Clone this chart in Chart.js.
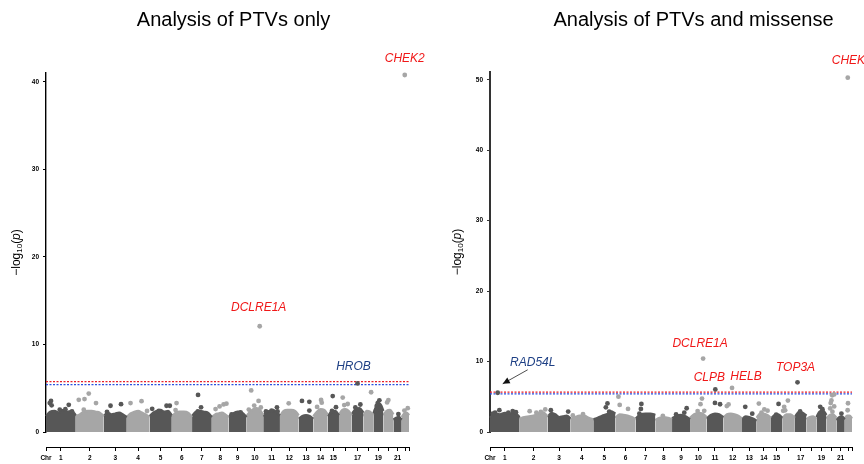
<!DOCTYPE html>
<html><head><meta charset="utf-8">
<script src="https://cdn.jsdelivr.net/npm/chart.js@4.4.0/dist/chart.umd.min.js"></script>
<style>
html,body{margin:0;padding:0;background:#fff;}
#wrap{position:relative;width:864px;height:464px;overflow:hidden;background:#fff;}
.c{position:absolute;top:0;width:432px;height:464px;}
</style></head><body>
<div id="wrap">
<div class="c" style="left:0"><canvas id="c1" width="432" height="464"></canvas></div>
<div class="c" style="left:432px"><canvas id="c2" width="432" height="464"></canvas></div>
</div>
<script>
// ---------------- DATA ----------------
const chromosomes = ['1','2','3','4','5','6','7','8','9','10','11','12','13','14','15','16','17','18','19','20','21','22'];
const chrLength = [238,224,184,182,178,162,158,134,144,133,134,150,117,115,90,102,93,80,80,80,67,58];
const xTickLabels = ['Chr','1','2','3','4','5','6','7','8','9','10','11','12','13','14','15','','17','','19','','21','',''];

const titles = ['Analysis of PTVs only', 'Analysis of PTVs and missense'];
const yTicksPTV = [0,10,20,30,40];
const yTicksMis = [0,10,20,30,40,50];
const thresholdsPTV = [5.75, 5.40];
const thresholdsMis = [5.66, 5.40];

// dense bulk of genes: upper envelope of -log10(p) along each chromosome
const cloudPTV = [
  [1.8,2.3,2.4,2.2,2.5,2.3,2.4,1.9],
  [1.8,2.0,2.3,2.4,2.4,2.3,2.2,1.8],
  [1.8,2.2,2.0,2.1,2.2,2.0,1.7],
  [1.7,2.1,2.3,2.4,2.2,2.0,1.7],
  [1.8,2.2,2.4,2.5,2.3,2.4,1.9],
  [1.7,2.2,2.3,2.3,2.2,1.7],
  [1.8,2.3,2.4,2.3,2.2,1.7],
  [1.7,2.0,2.1,2.2,2.0,1.7],
  [1.7,2.1,2.3,2.2,1.7],
  [1.8,2.3,2.6,2.7,2.5,1.9],
  [1.8,2.3,2.4,2.5,2.2,1.9],
  [1.8,2.4,2.5,2.5,2.4,1.9],
  [1.5,1.8,1.9,1.8,1.5],
  [1.8,2.3,2.6,2.5,2.0],
  [1.8,2.3,2.4,1.9],
  [1.9,2.5,2.6,2.4,1.9],
  [2.0,2.6,2.7,2.2],
  [1.8,2.4,2.3,1.9],
  [2.1,3.0,3.2,2.4],
  [1.9,2.4,2.5,2.0],
  [1.4,1.6,1.7,1.4],
  [1.7,2.1,2.2,1.9]
];
const cloudMis = [
  [2.0,2.6,2.5,2.7,2.6,2.7,2.1],
  [1.9,2.1,2.2,2.3,2.6,2.8,2.2],
  [2.1,2.7,2.5,2.1,2.2,2.3,1.9],
  [1.8,2.1,2.3,2.3,2.0,1.8],
  [1.8,2.0,2.3,2.5,2.9,2.6],
  [2.0,2.5,2.4,2.3,2.1,1.8],
  [1.9,2.5,2.6,2.6,2.4],
  [1.7,2.0,2.1,2.0,1.8],
  [1.9,2.3,2.4,2.2,1.8],
  [2.0,2.5,2.7,2.6,2.1],
  [1.9,2.4,2.6,2.5,2.1],
  [2.0,2.5,2.6,2.5,2.3,1.9],
  [1.8,2.2,2.1,1.9,1.6],
  [2.0,2.6,2.6,2.4,2.0],
  [1.9,2.4,2.5,2.0],
  [1.9,2.5,2.5,2.0],
  [2.1,2.8,2.7,2.3],
  [1.8,2.1,2.2,1.8],
  [2.1,2.9,3.0,2.4],
  [1.9,2.4,2.5,2.0],
  [1.7,2.1,2.2,1.8],
  [1.9,2.3,2.3,1.9]
];

// individual genes above the bulk: [chromosome, position (Mb), -log10(p)]
const hitsPTV = [
  [1,40,3.55],[1,30,3.3],[1,45,3.05],[1,110,2.55],[1,155,2.6],[1,182,3.1],[1,208,2.35],
  [2,24,3.68],[2,70,3.76],[2,104,4.39],[2,162,3.3],[2,64,2.55],
  [3,54,3.0],[3,26,2.3],[3,138,3.18],
  [4,30,3.3],[4,118,3.52],[4,162,2.4],
  [5,21,2.65],[5,74,2.4],[5,136,3.0],[5,162,3.0],
  [6,38,3.3],[6,30,2.5],
  [7,48,4.23],[7,72,2.82],[7,46,2.35],
  [8,30,2.62],[8,62,2.92],[8,94,3.15],[8,117,3.24],
  [9,24,2.0],[9,96,2.25],
  [10,37,4.75],[10,96,3.55],[10,61,3.02],[10,114,2.8],[10,18,2.56],
  [11,22,2.35],[11,67,2.45],[11,110,2.82],[11,115,2.35],
  [12,70,3.28],
  [13,26,3.55],[13,85,3.45],[13,85,2.45],
  [14,30,2.86],[14,62,3.66],[14,67,3.35],
  [15,40,4.1],[15,66,2.84],[15,34,2.4],
  [16,30,3.93],[16,42,3.08],[16,70,3.2],
  [17,69,3.14],[17,29,2.8],
  [18,62,4.54],
  [19,48,3.62],[19,35,3.3],[19,27,2.97],[19,22,2.5],
  [20,40,3.65],[20,30,3.38],
  [21,40,2.05],
  [22,21,2.45],[22,48,2.72]
];
const hitsMis = [
  [1,75,3.1],[1,40,2.75],[1,147,2.75],[1,182,2.97],[1,208,2.8],[1,22,2.6],
  [2,80,2.95],[2,134,2.75],[2,170,2.85],[2,205,3.2],
  [3,26,3.1],[3,165,2.9],
  [4,18,2.35],[4,100,2.55],
  [5,114,4.06],[5,101,3.5],[5,128,2.9],
  [6,24,5.02],[6,34,3.85],[6,101,3.28],
  [7,46,3.98],[7,42,3.28],[7,30,2.6],
  [8,60,2.3],
  [9,32,2.5],[9,98,2.75],[9,117,3.37],
  [10,96,4.75],[10,84,3.95],[10,61,2.97],[10,114,3.0],
  [11,67,4.13],[11,108,3.94],
  [12,28,3.68],[12,42,3.92],
  [13,26,3.57],[13,82,2.6],
  [14,18,4.04],[14,39,2.74],[14,62,3.21],[14,88,3.02],
  [15,61,3.98],[15,42,2.48],
  [16,46,4.46],[16,16,3.57],[16,8,3.0],[16,24,3.07],
  [17,42,2.92],
  [19,30,3.57],[19,48,3.23],
  [20,46,5.22],[20,62,5.33],[20,40,4.48],[20,34,4.1],[20,62,3.63],[20,30,3.35],[20,48,2.88],
  [21,40,2.62],
  [22,26,4.08],[22,23,3.09]
];

// labelled genes
const genesPTV    = ['CHEK2','DCLRE1A','HROB'];
const genesPTVChr = [22,10,17];
const genesPTVPos = [24,105,46];
const genesPTVVal = [40.77,12.08,5.55];

const genesMis    = ['CHEK2','DCLRE1A','CLPB','HELB','TOP3A','RAD54L'];
const genesMisChr = [22,10,11,12,17,1];
const genesMisPos = [24,105,70,70,21,62];
const genesMisVal = [50.3,10.42,6.04,6.25,7.05,5.57];

// ---------------- STYLE ----------------
const FONT = "'Liberation Sans', Arial, Helvetica, sans-serif";
const DARK = '#575757', LIGHT = '#a6a6a6';
const RED = '#f01818', BLUE = '#1d3f84';
const THR_COLORS = ['#e8202a', '#2a4fe0'];

const styPTV = {
  yMax: 41, axisLeft: 46, padRight: 23, padTop: 73, titleX: 233.5, yTitleX: 17,
  axisColor: '#000', axisWidth: 1.4,
  labels: [ {dx:0,dy:-16,color:RED}, {dx:-1,dy:-19,color:RED}, {dx:-4,dy:-17,color:BLUE} ]
};
const styMis = {
  yMax: 51.1, axisLeft: 58, padRight: 12, padTop: 72, titleX: 261.5, yTitleX: 26,
  axisColor: '#333', axisWidth: 2,
  labels: [ {dx:4,dy:-17,color:RED}, {dx:-3,dy:-15,color:RED}, {dx:-6,dy:-12,color:RED},
            {dx:14,dy:-11.5,color:RED}, {dx:-2,dy:-15,color:RED}, {dx:35,dy:-30,color:BLUE} ],
  arrow: { gene: 5, from: [30,-23], to: [5,-9] }
};

// ---------------- BUILD ----------------
const chrStart = [0];
chrLength.forEach((l,i) => chrStart.push(chrStart[i] + l));
const genomeEnd = chrStart[chrLength.length];
const xTickValues = [0].concat(chrLength.map((l,i) => chrStart[i] + l/2), [genomeEnd]);
const chrColor = c => (c % 2 === 1 ? DARK : LIGHT);

const decorPlugin = {
  id: 'decor',
  afterDraw(chart, args, o) {
    const ctx = chart.ctx, xs = chart.scales.x, ys = chart.scales.y, ca = chart.chartArea;
    ctx.save();
    ctx.fillStyle = '#000';
    ctx.font = `20px ${FONT}`;
    ctx.textAlign = 'center';
    ctx.textBaseline = 'alphabetic';
    ctx.fillText(o.title, o.sty.titleX, 26);
    ctx.save();
    ctx.translate(o.sty.yTitleX, (ca.top + ca.bottom) / 2);
    ctx.rotate(-Math.PI / 2);
    const parts = [['\u2212log', `12px ${FONT}`, 0], ['10', `8px ${FONT}`, 3],
                   ['(', `12px ${FONT}`, 0], ['p', `italic 12px ${FONT}`, 0], [')', `12px ${FONT}`, 0]];
    let tw = 0;
    parts.forEach(p => { ctx.font = p[1]; tw += ctx.measureText(p[0]).width; });
    let px = -tw / 2;
    ctx.textAlign = 'left'; ctx.textBaseline = 'middle';
    parts.forEach(p => { ctx.font = p[1]; ctx.fillText(p[0], px, p[2]); px += ctx.measureText(p[0]).width; });
    ctx.restore();
    ctx.font = `italic 12px ${FONT}`;
    ctx.textAlign = 'center'; ctx.textBaseline = 'middle';
    o.genes.forEach((g, i) => {
      const gx = xs.getPixelForValue(chrStart[o.chr[i]-1] + o.pos[i]);
      const gy = ys.getPixelForValue(o.val[i]);
      const s = o.sty.labels[i];
      ctx.fillStyle = s.color;
      ctx.fillText(g, gx + s.dx, gy + s.dy);
    });
    if (o.sty.arrow) {
      const a = o.sty.arrow, i = a.gene;
      const gx = xs.getPixelForValue(chrStart[o.chr[i]-1] + o.pos[i]);
      const gy = ys.getPixelForValue(o.val[i]);
      const x1 = gx + a.from[0], y1 = gy + a.from[1], x2 = gx + a.to[0], y2 = gy + a.to[1];
      ctx.strokeStyle = '#222'; ctx.lineWidth = 0.8;
      ctx.beginPath(); ctx.moveTo(x1, y1); ctx.lineTo(x2, y2); ctx.stroke();
      const ang = Math.atan2(y2 - y1, x2 - x1), L = 7, W = 3.2;
      ctx.fillStyle = '#111';
      ctx.beginPath();
      ctx.moveTo(x2, y2);
      ctx.lineTo(x2 - L*Math.cos(ang) + W*Math.sin(ang), y2 - L*Math.sin(ang) - W*Math.cos(ang));
      ctx.lineTo(x2 - L*Math.cos(ang) - W*Math.sin(ang), y2 - L*Math.sin(ang) + W*Math.cos(ang));
      ctx.closePath(); ctx.fill();
    }
    ctx.restore();
  }
};

function zeroPad(s) { s.paddingTop = 0; s.paddingBottom = 0; s.paddingLeft = 0; s.paddingRight = 0; }

function build(canvasId, title, cloud, hits, genes, gChr, gPos, gVal, thr, yTicks, sty) {
  const datasets = [];
  cloud.forEach((prof, ci) => {
    const col = chrColor(ci + 1);
    datasets.push({
      type: 'line',
      data: prof.map((h, j) => ({ x: chrStart[ci] + chrLength[ci] * j / (prof.length - 1), y: h })),
      fill: { value: -0.12 },
      backgroundColor: col, borderColor: col, borderWidth: 2.5,
      pointRadius: 0, tension: 0.35, cubicInterpolationMode: 'monotone',
      order: 3, clip: false
    });
  });
  thr.forEach((t, k) => {
    datasets.push({
      type: 'line',
      data: [{ x: 0, y: t }, { x: genomeEnd, y: t }],
      borderColor: THR_COLORS[k], borderWidth: 1.2, borderDash: [2, 1.5],
      pointRadius: 0, fill: false, order: 2, clip: false
    });
  });
  const pts = hits.map(h => ({ x: chrStart[h[0]-1] + h[1], y: h[2], chr: h[0] }))
    .concat(genes.map((g, i) => ({ x: chrStart[gChr[i]-1] + gPos[i], y: gVal[i], chr: gChr[i] })));
  datasets.push({
    type: 'scatter',
    data: pts,
    backgroundColor: c => (c.raw ? chrColor(c.raw.chr) : DARK),
    borderWidth: 0, pointRadius: 2.4, order: 1, clip: false
  });

  return new Chart(document.getElementById(canvasId), {
    type: 'scatter',
    data: { datasets },
    options: {
      responsive: false, animation: false, events: [],
      layout: { padding: { top: sty.padTop, right: sty.padRight, left: 0, bottom: 0 } },
      plugins: {
        legend: { display: false }, tooltip: { enabled: false },
        decor: { title, sty, genes, chr: gChr, pos: gPos, val: gVal }
      },
      scales: {
        xs: {
          axis: 'x', type: 'linear', position: 'bottom', weight: 0, min: 0, max: genomeEnd,
          grid: { display: false }, border: { display: false }, ticks: { display: false },
          afterFit: s => { s.height = 15; zeroPad(s); }
        },
        x: {
          type: 'linear', position: 'bottom', weight: 1, min: 0, max: genomeEnd,
          border: { display: true, color: '#000', width: 1 },
          grid: { display: true, drawOnChartArea: false, drawTicks: true, tickLength: 4, color: '#000', lineWidth: 1 },
          ticks: { autoSkip: false, maxRotation: 0, minRotation: 0, padding: 3, color: '#000',
                   font: { family: FONT, size: 6.5, weight: 'bold' },
                   callback: (v, i) => xTickLabels[i] },
          afterBuildTicks: s => { s.ticks = xTickValues.map(v => ({ value: v })); },
          afterFit: s => { s.height = 17; zeroPad(s); }
        },
        y: {
          type: 'linear', position: 'left', min: 0, max: sty.yMax,
          border: { display: true, color: sty.axisColor, width: sty.axisWidth },
          grid: { display: true, drawOnChartArea: false, drawTicks: true, tickLength: 3, color: sty.axisColor, lineWidth: 1 },
          ticks: { padding: 4, color: '#000', font: { family: FONT, size: 6.5, weight: 'bold' } },
          afterBuildTicks: s => { s.ticks = yTicks.map(v => ({ value: v })); },
          afterFit: s => { s.width = sty.axisLeft; zeroPad(s); }
        }
      }
    },
    plugins: [decorPlugin]
  });
}

build('c1', titles[0], cloudPTV, hitsPTV, genesPTV, genesPTVChr, genesPTVPos, genesPTVVal, thresholdsPTV, yTicksPTV, styPTV);
build('c2', titles[1], cloudMis, hitsMis, genesMis, genesMisChr, genesMisPos, genesMisVal, thresholdsMis, yTicksMis, styMis);
</script>
</body></html>
